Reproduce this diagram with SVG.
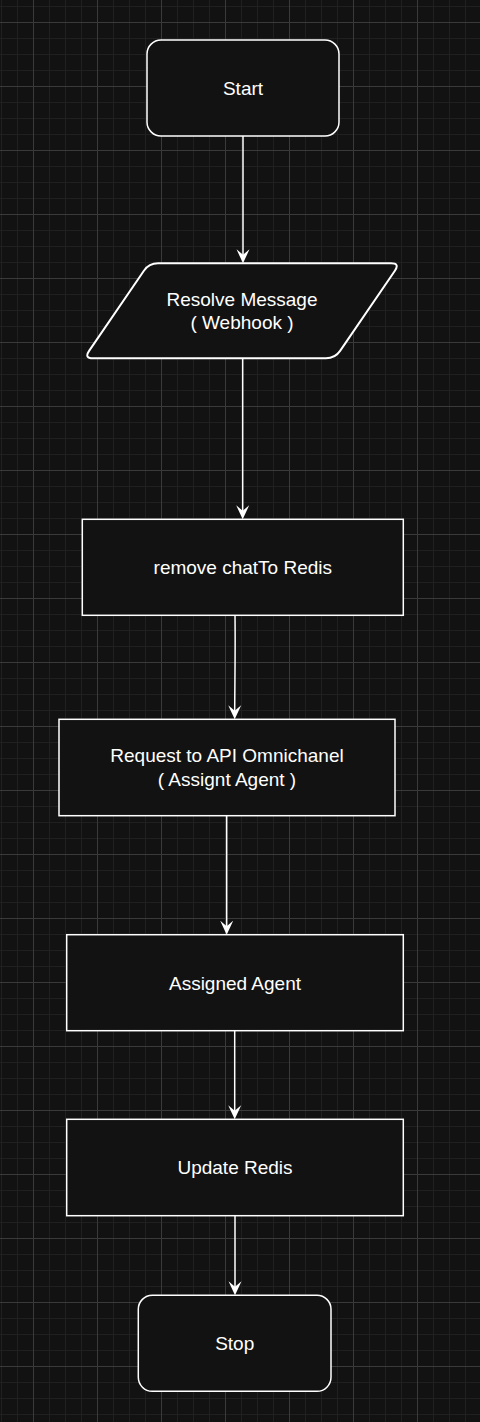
<svg xmlns="http://www.w3.org/2000/svg" width="480" height="1422" viewBox="0 0 480 1422">
  <style>
    .node { fill: #121212; stroke: #ffffff; stroke-width: 1.5; }
    .thick { stroke-width: 2; }
    .lbl { fill: #ffffff; font-family: "Liberation Sans", Arial, Helvetica, sans-serif; font-size: 19px; text-anchor: middle; }
    .edge { fill: none; stroke: #ffffff; stroke-width: 1.5; marker-end: url(#arrow); }
    .minor { stroke: #202020; stroke-width: 1; }
    .major { stroke: #3a3a3a; stroke-width: 1; }
  </style>
  <defs>
    <pattern id="grid" patternUnits="userSpaceOnUse" x="0" y="0" width="64" height="64">
      <rect width="64" height="64" fill="#121212"/>
      <path class="minor" d="M1.5,0V64M17.5,0V64M49.5,0V64M0,6.5H64M0,38.5H64M0,54.5H64"/>
      <path class="major" d="M33.5,0V64M0,22.5H64"/>
    </pattern>
    <marker id="arrow" markerUnits="userSpaceOnUse" markerWidth="16" markerHeight="16" viewBox="0 0 16 16" refX="8" refY="7" orient="auto">
      <path d="M14,7 L0,0.5 L5.5,7 L0,13.5 Z" fill="#ffffff"/>
    </marker>
  </defs>

  <rect x="0" y="0" width="480" height="1422" fill="url(#grid)"/>

  <g id="connectors">
    <path class="edge" d="M243,136 V257.3"/>
    <path class="edge" d="M242.7,358.3 V513.3"/>
    <path class="edge" d="M235,615.3 C235.5,650 234.7,690 234.7,713.3"/>
    <path class="edge" d="M226.7,815.7 V928.7"/>
    <path class="edge" d="M234.7,1030.7 V1113.3"/>
    <path class="edge" d="M235,1215.7 V1289.3"/>
  </g>

  <g id="start">
    <rect class="node" x="147" y="40" width="192" height="96" rx="14" ry="14"/>
    <text class="lbl" x="243" y="94.8">Start</text>
  </g>

  <g id="resolve-message">
    <path class="node thick" d="M158,263.3 L391,263.3 Q400,263.3 394.9,270.7 L340.1,350.9 Q335,358.3 326,358.3 L93,358.3 Q84,358.3 89.1,350.9 L143.9,270.7 Q149,263.3 158,263.3 Z"/>
    <text class="lbl" x="242" y="305.5">Resolve Message</text>
    <text class="lbl" x="242" y="329.1">( Webhook )</text>
  </g>

  <g id="remove-chat">
    <rect class="node" x="82.3" y="519.3" width="321" height="96"/>
    <text class="lbl" x="242.8" y="574.1">remove chatTo Redis</text>
  </g>

  <g id="request-api">
    <rect class="node" x="59" y="719.3" width="336" height="96.4"/>
    <text class="lbl" x="227" y="762">Request to API Omnichanel</text>
    <text class="lbl" x="227" y="785.6">( Assignt Agent )</text>
  </g>

  <g id="assigned-agent">
    <rect class="node" x="66.7" y="934.7" width="336.6" height="96"/>
    <text class="lbl" x="235" y="989.5">Assigned Agent</text>
  </g>

  <g id="update-redis">
    <rect class="node" x="66.7" y="1119.3" width="336.6" height="96.4"/>
    <text class="lbl" x="235" y="1174.3">Update Redis</text>
  </g>

  <g id="stop">
    <rect class="node" x="138.3" y="1295.3" width="192.7" height="96" rx="14" ry="14"/>
    <text class="lbl" x="234.7" y="1350.3">Stop</text>
  </g>
</svg>
